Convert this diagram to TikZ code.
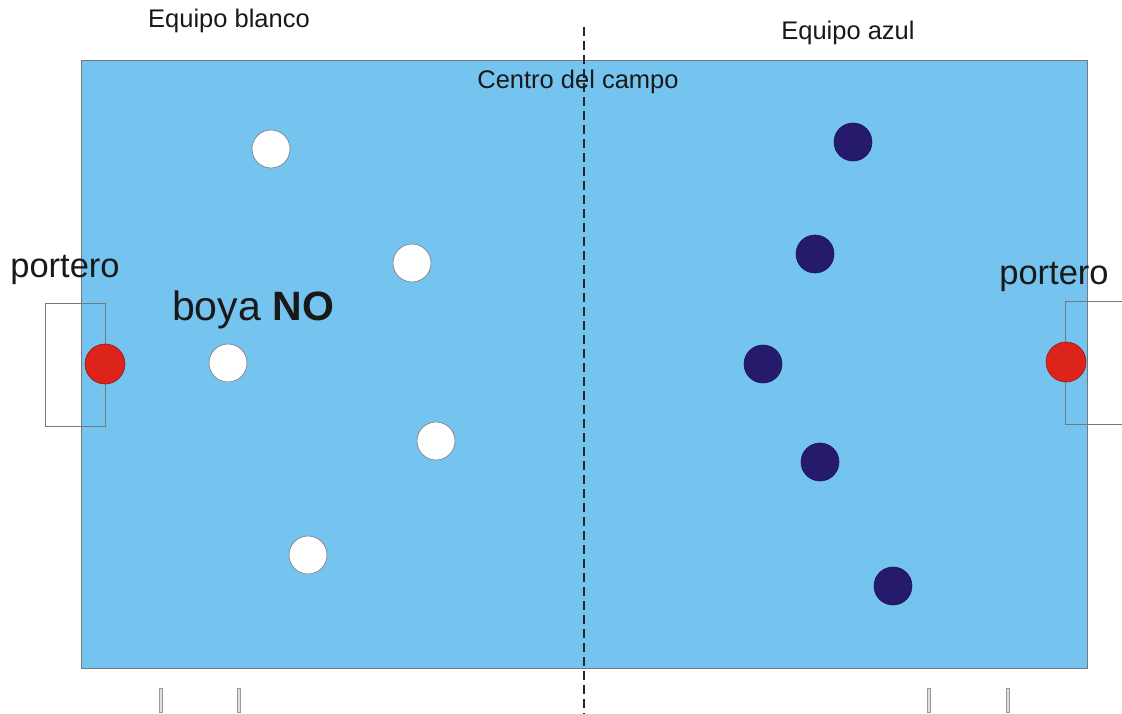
\documentclass[tikz,border=0pt]{standalone}
\usepackage{fontspec}
\setmainfont{Liberation Sans}
\usepackage{tikz}
\usetikzlibrary{positioning,calc}
\definecolor{poolblue}{RGB}{117,196,239}
\definecolor{teamnavy}{RGB}{37,26,107}
\definecolor{goalred}{RGB}{220,36,28}
\definecolor{edgegray}{RGB}{120,120,120}

\begin{document}
\begin{tikzpicture}[x=1pt, y=-1pt,
    player/.style={circle, draw=edgegray, line width=0.6pt, minimum size=38pt, inner sep=0pt},
    white player/.style={player, fill=white},
    blue player/.style={player, fill=teamnavy, draw=teamnavy!80!black},
    keeper/.style={player, fill=goalred, draw=goalred!70!black, minimum size=40pt},
    goalbox/.style={draw=edgegray, line width=0.8pt},
    label/.style={font=\fontsize{25.5}{28}\selectfont, text=black!90, inner sep=0pt},
    biglabel/.style={font=\fontsize{34.5}{38}\selectfont, text=black!90, inner sep=0pt},
    lanemark/.style={rectangle, draw=gray!80, fill=gray!25, line width=0.6pt, minimum width=3pt, minimum height=24pt, inner sep=0pt}
]
\useasboundingbox (0,0) rectangle (1122,714);

% Field
\node[draw=edgegray, line width=0.6pt, fill=poolblue, minimum width=1006pt, minimum height=608pt, inner sep=0pt] (field) at (584,364) {};

% Goals
\draw[goalbox] (105,303) rectangle (45,426);
\draw[goalbox] (1122,301) -- (1065,301) -- (1065,424) -- (1122,424);

% Half-way line
\coordinate (midtop) at (584,27);
\coordinate (midbot) at (584,714);
\draw[black!85, line width=1.6pt, dash pattern=on 9pt off 5pt] (midtop) -- (midbot);

% Labels
\node[label] (white team) at (229,21) {Equipo blanco};
\node[label] (blue team) at (848,33) {Equipo azul};
\node[label] (centre) at (578,82) {Centro del campo};
\node[biglabel] (keeper left label) at (65,270) {portero};
\node[biglabel] (keeper right label) at (1054,277) {portero};
\node[biglabel, font=\fontsize{41}{45}\selectfont] (buoy) at (253,310) {boya \textbf{NO}};

% Goalkeepers
\node[keeper] (keeper left) at (105,364) {};
\node[keeper] (keeper right) at (1066,362) {};

% White team
\node[white player] (w1) at (271,149) {};
\node[white player] (w2) at (412,263) {};
\node[white player] (w3) at (228,363) {};
\node[white player] (w4) at (436,441) {};
\node[white player] (w5) at (308,555) {};

% Blue team
\node[blue player] (b1) at (853,142) {};
\node[blue player] (b2) at (815,254) {};
\node[blue player] (b3) at (763,364) {};
\node[blue player] (b4) at (820,462) {};
\node[blue player] (b5) at (893,586) {};

% Lane marks
\foreach \x [count=\i] in {161,239,929,1008}
  \node[lanemark] (mark\i) at (\x,700) {};

\end{tikzpicture}
\end{document}
